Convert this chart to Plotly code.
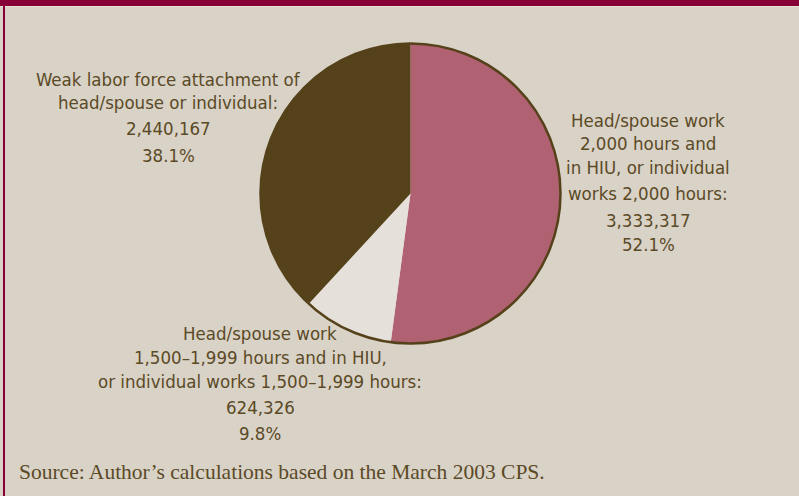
import plotly.graph_objects as go

# Data
categories = [
    "Head/spouse work 2,000 hours and in HIU, or individual works 2,000 hours",
    "Head/spouse work 1,500–1,999 hours and in HIU, or individual works 1,500–1,999 hours",
    "Weak labor force attachment of head/spouse or individual",
]
values = [3333317, 624326, 2440167]
percent_labels = ["52.1%", "9.8%", "38.1%"]
count_labels = ["3,333,317", "624,326", "2,440,167"]

label_lines = [
    ["Head/spouse work", "2,000 hours and", "in HIU, or individual", "works 2,000 hours:"],
    ["Head/spouse work", "1,500–1,999 hours and in HIU,", "or individual works 1,500–1,999 hours:"],
    ["Weak labor force attachment of", "head/spouse or individual:"],
]
slice_colors = ["#b06272", "#e6e0da", "#55421a"]

W, H = 799, 496
BG = "#d9d2c6"
MAROON = "#870036"
TEXT = "#5b4a26"
OUTLINE = "#55421a"

cx, cy, r = 410.5, 193.5, 150
dom_x = [(cx - r) / W, (cx + r) / W]
dom_y = [(H - cy - r) / H, (H - cy + r) / H]

fig = go.Figure()
fig.add_trace(go.Pie(
    labels=categories, values=values, sort=False, direction="clockwise", rotation=0,
    marker=dict(colors=slice_colors, line=dict(width=0)),
    textinfo="none", domain=dict(x=dom_x, y=dom_y), showlegend=False,
    hoverinfo="label+value+percent",
))
fig.add_trace(go.Pie(
    labels=["outline"], values=[1], sort=False,
    marker=dict(colors=["rgba(0,0,0,0)"], line=dict(color=OUTLINE, width=2.5)),
    textinfo="none", domain=dict(x=dom_x, y=dom_y), showlegend=False, hoverinfo="skip",
))

LABEL_FONT = dict(family="Liberation Sans Narrow, DejaVu Sans Condensed, Roboto Condensed, Arial Narrow, sans-serif",
                  size=18.5, color=TEXT)

# label layout: (center x, list of y for text lines, y for count, y for percent)
label_pos = [
    (648, [120, 144, 168, 193], 220, 245),
    (260, [333, 357, 381], 407, 433),
    (168, [80, 103], 129, 156),
]

annotations = []
def add_text(x, y, s, font, xanchor="center"):
    annotations.append(dict(x=x / W, y=1 - y / H, xref="paper", yref="paper", text=s,
                            showarrow=False, xanchor=xanchor, yanchor="middle", font=font))

for i, (x, ys, yc, yp) in enumerate(label_pos):
    for line, y in zip(label_lines[i], ys):
        add_text(x, y, line, LABEL_FONT)
    add_text(x, yc, count_labels[i], LABEL_FONT)
    add_text(x, yp, percent_labels[i], LABEL_FONT)

add_text(17, 472, "Source: Author’s calculations based on the March 2003 CPS.",
         dict(family="Liberation Serif, DejaVu Serif, serif", size=21.5, color=TEXT), xanchor="left")

shapes = [
    dict(type="rect", xref="paper", yref="paper", x0=0, x1=1, y0=1 - 6 / H, y1=1,
         fillcolor=MAROON, line=dict(width=0), layer="above"),
    dict(type="rect", xref="paper", yref="paper", x0=0, x1=1, y0=1 - 7 / H, y1=1 - 6 / H,
         fillcolor="#e8e1d8", line=dict(width=0), layer="above"),
    dict(type="rect", xref="paper", yref="paper", x0=3 / W, x1=5 / W, y0=0, y1=1,
         fillcolor=MAROON, line=dict(width=0), layer="above"),
]

fig.update_layout(
    width=W, height=H, margin=dict(l=0, r=0, t=0, b=0),
    paper_bgcolor=BG, plot_bgcolor=BG,
    annotations=annotations, shapes=shapes, showlegend=False,
)

fig.write_html("out.html")
